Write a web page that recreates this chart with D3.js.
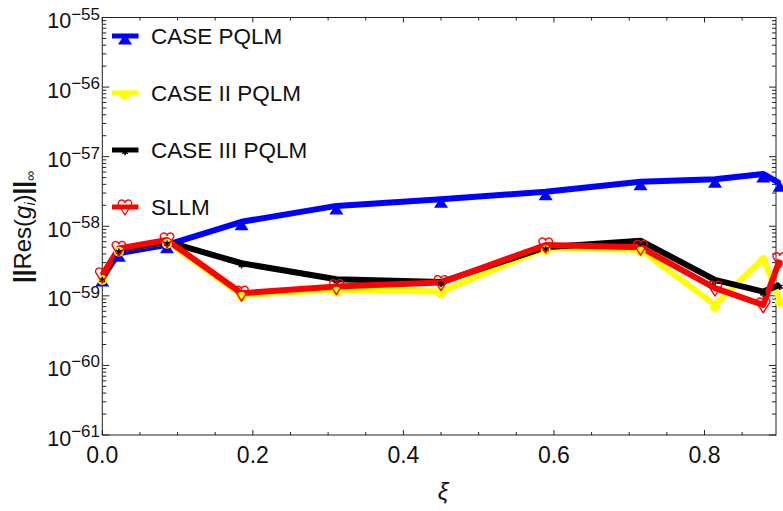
<!DOCTYPE html>
<html>
<head>
<meta charset="utf-8">
<script src="https://cdn.jsdelivr.net/npm/d3@7"></script>
<style>
  html, body { margin: 0; padding: 0; background: #fff; }
  svg { display: block; font-family: "Liberation Sans", Arial, sans-serif; }
</style>
</head>
<body>
<svg id="chart" width="783" height="511"></svg>
<script>
// Collocation nodes and residual norms per method
const xi = [0, 0.022, 0.086, 0.185, 0.311, 0.45, 0.589, 0.715, 0.814, 0.878, 0.9];
const casePQLM = [1.8e-59, 4.1e-59, 5.4e-59, 1.16e-58, 1.96e-58, 2.44e-58, 3.14e-58, 4.37e-58, 4.73e-58, 5.64e-58, 4.15e-58];
const caseIIPQLM = [1.8e-59, 4.6e-59, 6.0e-59, 1.03e-59, 1.22e-59, 1.15e-59, 4.83e-59, 4.6e-59, 7.4e-60, 3.46e-59, 8.7e-60];
const caseIIIPQLM = [1.8e-59, 4.6e-59, 6.0e-59, 2.94e-59, 1.73e-59, 1.58e-59, 5.0e-59, 6.2e-59, 1.7e-59, 1.15e-59, 1.44e-59];
const sllm = [2.0e-59, 4.8e-59, 6.35e-59, 1.09e-59, 1.36e-59, 1.55e-59, 5.38e-59, 5.0e-59, 1.29e-59, 7.4e-60, 3.3e-59];

const seriesNames = ["CASE PQLM", "CASE II PQLM", "CASE III PQLM", "SLLM"];
const xTickValues = [0, 0.2, 0.4, 0.6, 0.8];
const yExponents = [-55, -56, -57, -58, -59, -60, -61];

const series = [
  { name: seriesNames[0], values: casePQLM, color: "#0000ff", marker: "triangle" },
  { name: seriesNames[1], values: caseIIPQLM, color: "#ffff00", marker: "circle" },
  { name: seriesNames[2], values: caseIIIPQLM, color: "#000000", marker: "star" },
  { name: seriesNames[3], values: sllm, color: "#ff0000", marker: "heart" }
];

const svg = d3.select("#chart");
const plotLeft = 102.3, plotRight = 776, plotTop = 17.5, plotBottom = 435;

const x = d3.scaleLinear().domain([0, 0.895]).range([plotLeft, plotRight]);
const y = d3.scaleLog().domain([1e-61, 1e-55]).range([plotBottom, plotTop]);

const frameColor = "#222";

// Frame
svg.append("rect")
  .attr("x", plotLeft).attr("y", plotTop)
  .attr("width", plotRight - plotLeft).attr("height", plotBottom - plotTop)
  .attr("fill", "none").attr("stroke", frameColor).attr("stroke-width", 1);

// x ticks (major every 0.2, minor every 0.05) on bottom and top
const xMinor = d3.range(0, 0.9, 0.05).map(v => +v.toFixed(2));
const xt = svg.append("g");
xMinor.forEach(v => {
  const major = Math.abs(v / 0.2 - Math.round(v / 0.2)) < 1e-6;
  const len = major ? 5 : 3;
  const px = x(v);
  xt.append("line").attr("x1", px).attr("x2", px).attr("y1", plotBottom).attr("y2", plotBottom - len)
    .attr("stroke", frameColor).attr("stroke-width", 1);
  xt.append("line").attr("x1", px).attr("x2", px).attr("y1", plotTop).attr("y2", plotTop + len)
    .attr("stroke", frameColor).attr("stroke-width", 1);
});
xTickValues.forEach(v => {
  svg.append("text")
    .attr("x", x(v)).attr("y", 463)
    .attr("text-anchor", "middle")
    .attr("font-size", 23)
    .attr("fill", "#111")
    .text(v.toFixed(1));
});

// y ticks (log) on left and right
const yt = svg.append("g");
for (let e = -61; e < -55; e++) {
  for (let m = 1; m <= 9; m++) {
    const v = m * Math.pow(10, e);
    const py = y(v);
    const len = m === 1 ? 7 : 4;
    yt.append("line").attr("x1", plotLeft).attr("x2", plotLeft + len).attr("y1", py).attr("y2", py)
      .attr("stroke", frameColor).attr("stroke-width", 1);
    yt.append("line").attr("x1", plotRight).attr("x2", plotRight - len).attr("y1", py).attr("y2", py)
      .attr("stroke", frameColor).attr("stroke-width", 1);
  }
}
yExponents.forEach(e => {
  const py = y(Math.pow(10, e));
  const t = svg.append("text")
    .attr("x", 100).attr("y", py + 10.5)
    .attr("text-anchor", "end")
    .attr("font-size", 21.5)
    .attr("fill", "#111");
  t.append("tspan").text("10");
  t.append("tspan").attr("font-size", 17).attr("dy", -8.5).text("\u2212" + Math.abs(e));
});

// Axis titles
svg.append("text")
  .attr("x", x(0.45) + 2).attr("y", 500)
  .attr("text-anchor", "middle")
  .attr("font-size", 24)
  .attr("font-style", "italic")
  .attr("fill", "#111")
  .text("\u03be");

const yTitle = svg.append("text")
  .attr("transform", "translate(31,227) rotate(-90)")
  .attr("text-anchor", "middle")
  .attr("font-size", 24)
  .attr("fill", "#111");
yTitle.append("tspan").attr("font-weight", "bold").text("||");
yTitle.append("tspan").text("Res(");
yTitle.append("tspan").attr("font-style", "italic").text("g");
yTitle.append("tspan").attr("font-style", "italic").attr("font-size", 14).attr("dy", 4).text("i");
yTitle.append("tspan").attr("dy", -4).text(")");
yTitle.append("tspan").attr("font-weight", "bold").text("||");
yTitle.append("tspan").attr("font-size", 14).attr("dy", 4).text("\u221e");

// Marker drawing
function drawMarker(g, type, color, px, py) {
  if (type === "triangle") {
    g.append("path")
      .attr("d", `M${px - 7},${py + 8.5} L${px + 7},${py + 8.5} L${px},${py - 2.5} Z`)
      .attr("fill", color);
  } else if (type === "circle") {
    g.append("circle").attr("cx", px).attr("cy", py + 2).attr("r", 5).attr("fill", color);
  } else if (type === "star") {
    g.append("path")
      .attr("d", d3.symbol(d3.symbolAsterisk, 30)())
      .attr("transform", `translate(${px},${py + 2})`)
      .attr("fill", "none").attr("stroke", color).attr("stroke-width", 1.6);
  } else if (type === "heart") {
    const r = 3.4;
    g.append("path")
      .attr("d", `M${px},${py + 8} L${px - 6.6},${py - 2.5} A${r},${r} 0 1 1 ${px},${py - 4.5} A${r},${r} 0 1 1 ${px + 6.6},${py - 2.5} Z`)
      .attr("fill", "none").attr("stroke", color).attr("stroke-width", 1.4)
      .attr("stroke-linejoin", "round");
  }
}

// Lines
const line = d3.line().x(d => x(d[0])).y(d => y(d[1]));
const lineLayer = svg.append("g");
series.forEach(s => {
  lineLayer.append("path")
    .datum(xi.map((v, i) => [v, s.values[i]]))
    .attr("d", line)
    .attr("fill", "none")
    .attr("stroke", s.color)
    .attr("stroke-width", 6)
    .attr("stroke-linejoin", "round");
});

// Markers on top of lines
const markerLayer = svg.append("g");
series.forEach(s => {
  xi.forEach((v, i) => drawMarker(markerLayer, s.marker, s.color, x(v), y(s.values[i])));
});

// Legend
const legendY = [36, 93, 150, 207];
const legend = svg.append("g");
series.forEach((s, i) => {
  const ly = legendY[i];
  legend.append("line")
    .attr("x1", 112).attr("x2", 138.5).attr("y1", ly).attr("y2", ly)
    .attr("stroke", s.color).attr("stroke-width", 5);
  drawMarker(legend, s.marker, s.color, 125, ly);
  legend.append("text")
    .attr("x", 151).attr("y", ly + 8)
    .attr("font-size", 22.5)
    .attr("fill", "#111")
    .text(s.name);
});
</script>
</body>
</html>
